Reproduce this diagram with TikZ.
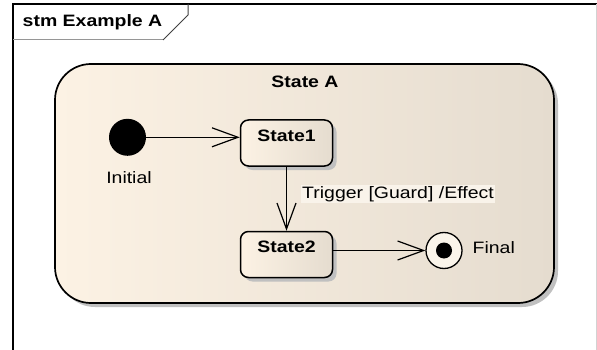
\documentclass[tikz,border=0pt]{standalone}
\usepackage{fontspec}
\setmainfont{Liberation Sans}[FakeStretch=1.18]
\usetikzlibrary{arrows.meta,shadows}
\definecolor{creamL}{RGB}{252,242,228}
\definecolor{creamR}{RGB}{229,220,207}
\definecolor{shadowgray}{RGB}{192,192,192}
\definecolor{tabline}{RGB}{150,150,150}
\definecolor{labelbg}{RGB}{249,243,234}
\definecolor{finalfill}{RGB}{250,244,234}

\begin{document}
\begin{tikzpicture}[x=1pt,y=-1pt,
  txt/.style={font=\fontsize{16.5}{19}\selectfont, inner sep=0pt},
  boldtxt/.style={font=\fontsize{16.5}{19}\selectfont\bfseries, inner sep=0pt},
  shadowed/.style={drop shadow={shadow xshift=4pt,shadow yshift=-4pt,fill=shadowgray,opacity=1}},
  composite/.style={draw=black, line width=1.7pt, rounded corners=36pt,
    left color=creamL, right color=creamR, shadowed,
    minimum width=499pt, minimum height=239pt, inner sep=0pt},
  simplestate/.style={draw=black, line width=1.5pt, rounded corners=8pt,
    left color=creamL, right color=creamR, shadowed,
    minimum width=92pt, minimum height=46pt, inner sep=0pt},
  transition/.style={draw=black, line width=1.2pt, -{Straight Barb[length=26pt,width=19pt]}},
]
\useasboundingbox (0,0) rectangle (597,350);
\fill[white] (0,0) rectangle (597,350);

% diagram frame and its name tab
\draw[line width=1.3pt] (13,350) -- (13,4) -- (597,4);
\draw[gray!35, line width=1pt] (596.5,4) -- (596.5,350);
\draw[tabline, line width=1pt] (13,40) -- (163,40);
\draw[black!75, line width=1pt] (163,40) -- (188,15) -- (188,4);
\node[boldtxt, anchor=west] (frametitle) at (22.5,22.5) {stm Example A};

% composite state
\node[composite] (stateA) at (304.5,183.5) {};
\node[boldtxt] (stateAtitle) at (305,81.5) {State A};

% initial pseudostate
\node[circle, fill=black, minimum size=37pt, inner sep=0pt] (initial) at (127.5,137.3) {};
\node[txt] (initlabel) at (129,177.5) {Initial};

% substates
\node[simplestate] (s1) at (286.5,143) {};
\node[boldtxt] (s1name) at ([yshift=-17pt]s1.north) {State1};
\node[simplestate] (s2) at (286.5,254.5) {};
\node[boldtxt] (s2name) at ([yshift=-16.5pt]s2.north) {State2};

% final state
\node[circle, draw=black, line width=1.3pt, fill=finalfill, minimum size=36pt, inner sep=0pt] (final) at (444,250.5) {};
\node[circle, fill=black, minimum size=16pt, inner sep=0pt] (finaldot) at (final.center) {};
\node[txt, anchor=west] (finallabel) at (472.5,248) {Final};

% transitions
\draw[transition] (initial.east) -- (initial.east -| s1.west);
\draw[transition] (s1.south) -- (s2.north);
\draw[transition] (final -| s2.east) -- (final.west);
\node[txt, fill=labelbg, inner xsep=1pt, inner ysep=1.5pt, anchor=west] (trig) at (301,194) {Trigger [Guard] /Effect};
\end{tikzpicture}
\end{document}
